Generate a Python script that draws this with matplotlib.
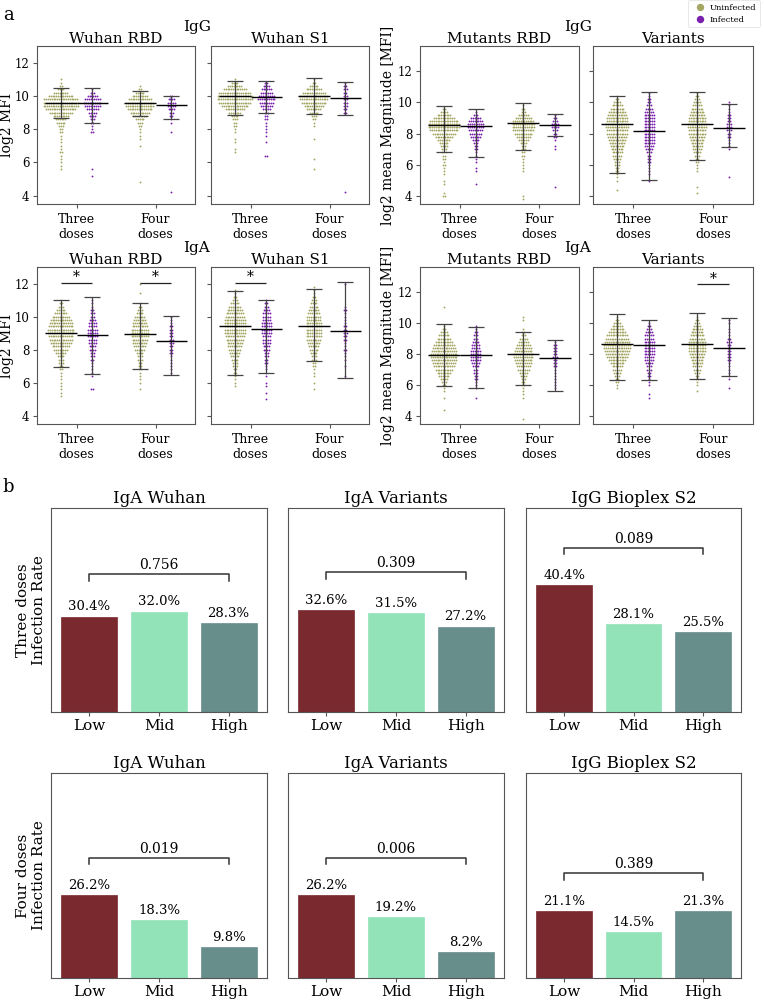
import numpy as np
import matplotlib.pyplot as plt
from matplotlib.lines import Line2D

plt.rcParams['font.family'] = 'DejaVu Serif'

# ---------------- panel a data ----------------
# swarm values are stored as 0.2-wide bins: first bin value + number of points per bin
# group order: three doses uninfected, three doses infected, four doses uninfected, four doses infected
dose_labels = ['Three\ndoses', 'Four\ndoses']
status_labels = ['Uninfected', 'Infected']
bin_step = 0.2

igg_wuhan_rbd_start = [5.6, 5.2, 4.8, 4.2]
igg_wuhan_rbd_counts = [
    [1, 1, 1, 1, 1, 2, 1, 1, 1, 1, 1, 2, 2, 3, 5, 6, 9, 13, 17, 20, 20, 19, 14, 8, 4, 2, 1, 1],
    [1, 0, 1, 0, 0, 0, 0, 0, 0, 0, 0, 0, 0, 2, 1, 1, 2, 3, 4, 5, 7, 9, 10, 9, 6, 3, 1],
    [1] + [0] * 10 + [1, 0, 1, 1, 1, 1, 2, 3, 5, 8, 11, 14, 16, 16, 13, 9, 5, 2, 1],
    [1] + [0] * 17 + [1, 0, 0, 1, 1, 2, 3, 4, 5, 5, 4, 2],
]
igg_wuhan_rbd_mean = [9.58, 9.55, 9.60, 9.45]
igg_wuhan_rbd_low = [8.65, 8.35, 8.78, 8.60]
igg_wuhan_rbd_high = [10.50, 10.50, 10.28, 10.02]

igg_wuhan_s1_start = [6.6, 6.4, 5.6, 4.2]
igg_wuhan_s1_counts = [
    [1, 1, 0, 1, 1, 0, 1, 1, 2, 2, 3, 4, 7, 11, 15, 18, 20, 20, 18, 13, 8, 4, 1],
    [2, 0, 0, 0, 1, 0, 1, 1, 1, 1, 1, 2, 2, 3, 5, 7, 8, 10, 9, 7, 6, 4, 2],
    [1, 0, 0, 1, 0, 0, 0, 0, 0, 1, 0, 0, 0, 1, 1, 2, 3, 5, 8, 11, 14, 16, 16, 13, 9, 5, 2, 1],
    [1] + [0] * 23 + [2, 2, 3, 3, 3, 3, 2, 3, 2, 1],
]
igg_wuhan_s1_mean = [10.00, 9.96, 10.02, 9.90]
igg_wuhan_s1_low = [8.85, 8.95, 8.90, 8.87]
igg_wuhan_s1_high = [10.88, 10.90, 11.05, 10.86]

igg_mutants_start = [4.0, 4.8, 3.8, 4.6]
igg_mutants_counts = [
    [2, 1, 0, 0, 1, 1, 0, 1, 1, 1, 2, 1, 2, 2, 3, 3, 4, 5, 7, 10, 13, 16, 18, 18, 16, 12, 8, 4, 2],
    [1, 0, 0, 0, 1, 1, 0, 1, 1, 1, 1, 2, 2, 3, 4, 6, 7, 8, 9, 9, 8, 6, 3, 1],
    [1, 1] + [0] * 7 + [1, 1, 1, 1, 1, 2, 2, 3, 3, 4, 6, 8, 10, 12, 13, 13, 12, 9, 6, 3, 2, 1],
    [1] + [0] * 11 + [1, 1, 0, 1, 2, 2, 3, 4, 4, 3, 2, 1],
]
igg_mutants_mean = [8.55, 8.49, 8.68, 8.55]
igg_mutants_low = [6.82, 6.53, 6.98, 7.87]
igg_mutants_high = [9.76, 9.57, 9.95, 9.25]

igg_variants_start = [4.4, 5.0, 4.2, 5.2]
igg_variants_counts = [
    [1, 0, 0, 1, 1, 1, 2, 2, 3, 3, 4, 5, 6, 7, 8, 9, 10, 11, 12, 12, 13, 13, 12, 12, 11, 10, 8, 6, 4, 2, 1],
    [1, 0, 1, 1, 1, 1, 2, 2, 2, 3, 4, 5, 6, 6, 6, 6, 6, 6, 6, 6, 6, 6, 5, 4, 3, 2, 2, 1, 1],
    [1, 0, 1, 0, 0, 0, 0, 1, 1, 1, 2, 2, 3, 4, 5, 6, 7, 8, 9, 10, 10, 11, 11, 10, 10, 9, 8, 7, 5, 4, 3, 2, 1],
    [1] + [0] * 8 + [1, 1, 1, 1, 2, 2, 3, 3, 3, 2, 2, 2, 1, 1, 1, 1],
]
igg_variants_mean = [8.61, 8.17, 8.61, 8.36]
igg_variants_low = [5.50, 5.06, 6.33, 7.13]
igg_variants_high = [10.39, 10.65, 10.65, 9.88]

iga_wuhan_rbd_start = [5.2, 5.6, 5.6, 6.6]
iga_wuhan_rbd_counts = [
    [1, 1, 1, 1, 1, 1, 1, 1, 2, 2, 3, 3, 4, 6, 8, 10, 12, 13, 14, 15, 15, 14, 13, 12, 10, 7, 5, 3, 2, 1],
    [2, 0, 0, 0, 1, 1, 1, 1, 1, 2, 3, 3, 4, 4, 5, 5, 6, 6, 6, 5, 5, 4, 3, 3, 2, 1, 1, 1],
    [1, 0, 1, 1, 1, 1, 2, 2, 2, 3, 3, 4, 6, 7, 8, 9, 10, 10, 10, 9, 8, 7, 6, 4, 3, 2, 1, 0, 0, 1, 0, 0, 1],
    [1, 1, 1, 1, 1, 1, 2, 2, 2, 3, 3, 2, 2, 2, 2, 1, 1, 1],
]
iga_wuhan_rbd_mean = [9.02, 8.90, 8.96, 8.52]
iga_wuhan_rbd_low = [6.92, 6.52, 6.80, 6.46]
iga_wuhan_rbd_high = [11.00, 11.16, 10.84, 10.06]

iga_wuhan_s1_start = [5.8, 5.0, 5.6, 6.4]
iga_wuhan_s1_counts = [
    [1, 1, 1, 1, 2, 2, 3, 3, 4, 5, 6, 7, 8, 9, 10, 11, 12, 12, 12, 12, 12, 11, 10, 9, 7, 5, 3, 2, 1, 1],
    [1, 0, 1, 0, 1, 1, 0, 1, 1, 1, 1, 2, 2, 3, 3, 4, 4, 5, 5, 5, 6, 6, 6, 6, 5, 5, 5, 4, 3, 2, 1],
    [1, 0, 1, 0, 1, 1, 1, 2, 2, 3, 3, 4, 5, 6, 7, 8, 9, 9, 9, 9, 9, 8, 8, 7, 6, 5, 4, 3, 2, 1, 1, 1],
    [1, 0, 0, 1, 0, 1, 1, 1, 2, 1, 1, 2, 2, 3, 2, 2, 1, 1, 1, 1, 2, 1, 0, 0, 0, 0, 0, 0, 1],
]
iga_wuhan_s1_mean = [9.46, 9.22, 9.40, 9.10]
iga_wuhan_s1_low = [6.46, 6.56, 7.34, 6.30]
iga_wuhan_s1_high = [11.54, 11.00, 11.66, 12.10]

iga_mutants_start = [4.4, 5.2, 3.8, 5.8]
iga_mutants_counts = [
    [1, 0, 0, 0, 1, 0, 1, 1, 2, 3, 4, 6, 8, 10, 12, 13, 14, 15, 15, 14, 13, 12, 10, 8, 6, 4, 2, 1, 0, 0, 0, 0, 0, 1],
    [1, 0, 0, 1, 1, 1, 2, 2, 3, 3, 4, 5, 6, 6, 6, 6, 5, 5, 4, 3, 3, 2, 1, 1],
    [1, 0, 0, 0, 0, 0, 0, 1, 1, 1, 1, 2, 2, 3, 4, 5, 7, 8, 9, 10, 11, 11, 10, 9, 8, 6, 5, 3, 2, 1, 0, 0, 1, 1],
    [1, 1, 1, 1, 1, 1, 1, 2, 2, 2, 3, 2, 2, 2, 2, 1],
]
iga_mutants_mean = [7.96, 7.96, 8.00, 7.75]
iga_mutants_low = [5.94, 5.79, 6.00, 5.62]
iga_mutants_high = [9.94, 9.77, 9.39, 8.90]

iga_variants_start = [5.8, 5.2, 5.6, 5.8]
iga_variants_counts = [
    [1, 1, 2, 2, 3, 4, 5, 6, 8, 10, 12, 13, 14, 15, 15, 14, 13, 12, 10, 8, 6, 4, 2, 1],
    [1, 1, 0, 0, 1, 1, 1, 2, 2, 3, 3, 4, 5, 5, 6, 6, 6, 6, 6, 5, 5, 4, 3, 2, 1],
    [1, 0, 1, 1, 2, 2, 3, 4, 5, 6, 7, 8, 9, 10, 10, 10, 10, 9, 8, 7, 6, 4, 3, 2, 1],
    [1, 0, 0, 1, 1, 1, 1, 1, 1, 2, 2, 2, 2, 2, 2, 3, 2, 1, 1, 1, 0, 1, 1],
]
iga_variants_mean = [8.65, 8.59, 8.65, 8.38]
iga_variants_low = [6.36, 6.36, 6.42, 6.59]
iga_variants_high = [10.55, 10.21, 10.67, 10.32]

# significance marks: (group index, bar height)
iga_wuhan_rbd_sig = [(0, 12.05), (2, 12.05)]
iga_wuhan_s1_sig = [(0, 12.05)]
iga_variants_sig = [(2, 12.53)]

# ---------------- panel b data ----------------
tiers = ['Low', 'Mid', 'High']
bar_titles = ['IgA Wuhan', 'IgA Variants', 'IgG Bioplex S2']
three_dose_rates = [[0.304, 0.320, 0.283], [0.326, 0.315, 0.272], [0.404, 0.281, 0.255]]
four_dose_rates = [[0.262, 0.183, 0.098], [0.262, 0.192, 0.082], [0.211, 0.145, 0.213]]
three_dose_p = ['0.756', '0.309', '0.089']
four_dose_p = ['0.019', '0.006', '0.389']

olive = '#a4a763'
purple = '#7b1fae'
bar_colors = ['#7a292e', '#93e3b9', '#688e8c']
spine_col = '#555555'

fig = plt.figure(figsize=(7.64, 10), dpi=100)


def rect(x0, y0, x1, y1):
    return [x0 / 764, 1 - y1 / 1000, (x1 - x0) / 764, (y1 - y0) / 1000]


def swarm_panel(ax, starts, counts, means, lows, highs, ylim, sig=()):
    dot_dx = 1.8 / (ax.get_position().width * 764 / 2.0)
    for g in range(4):
        xc = g // 2 + (-0.2 if g % 2 == 0 else 0.2)
        xs, ys = [], []
        for i, n in enumerate(counts[g]):
            if n == 0:
                continue
            y = starts[g] + i * bin_step
            xs.extend(xc + (np.arange(n) - (n - 1) / 2) * dot_dx)
            ys.extend([y] * n)
        ax.scatter(xs, ys, s=1.8, color=[olive, purple][g % 2], linewidths=0, zorder=2)
        ax.vlines(xc, lows[g], highs[g], color='#444444', lw=0.9, zorder=3)
        ax.hlines([lows[g], highs[g]], xc - 0.1, xc + 0.1, color='#444444', lw=0.9, zorder=3)
        ax.hlines(means[g], xc - 0.2, xc + 0.2, color='black', lw=1.0, zorder=4)
    for g, h in sig:
        xc = g // 2
        ax.hlines(h, xc - 0.2, xc + 0.2, color='#222222', lw=0.9)
        ax.text(xc, h + 0.33, '*', ha='center', va='center', fontsize=10)
    ax.set_xlim(-0.5, 1.5)
    ax.set_ylim(*ylim)
    ax.set_xticks([0, 1])
    ax.set_xticklabels(dose_labels, fontsize=9)
    ax.set_yticks([4, 6, 8, 10, 12])
    ax.tick_params(axis='x', labelsize=9, length=3, color=spine_col)
    ax.tick_params(axis='y', labelsize=8.5, length=3, pad=2.5, color=spine_col)
    for s in ax.spines.values():
        s.set_color(spine_col)


top_cols = [(37, 195), (211, 369), (420, 579), (593, 753)]
top_rows = [(46, 204), (267, 424)]
top_panels = [
    [('Wuhan RBD', igg_wuhan_rbd_start, igg_wuhan_rbd_counts, igg_wuhan_rbd_mean, igg_wuhan_rbd_low, igg_wuhan_rbd_high, ()),
     ('Wuhan S1', igg_wuhan_s1_start, igg_wuhan_s1_counts, igg_wuhan_s1_mean, igg_wuhan_s1_low, igg_wuhan_s1_high, ()),
     ('Mutants RBD', igg_mutants_start, igg_mutants_counts, igg_mutants_mean, igg_mutants_low, igg_mutants_high, ()),
     ('Variants', igg_variants_start, igg_variants_counts, igg_variants_mean, igg_variants_low, igg_variants_high, ())],
    [('Wuhan RBD', iga_wuhan_rbd_start, iga_wuhan_rbd_counts, iga_wuhan_rbd_mean, iga_wuhan_rbd_low, iga_wuhan_rbd_high, iga_wuhan_rbd_sig),
     ('Wuhan S1', iga_wuhan_s1_start, iga_wuhan_s1_counts, iga_wuhan_s1_mean, iga_wuhan_s1_low, iga_wuhan_s1_high, iga_wuhan_s1_sig),
     ('Mutants RBD', iga_mutants_start, iga_mutants_counts, iga_mutants_mean, iga_mutants_low, iga_mutants_high, ()),
     ('Variants', iga_variants_start, iga_variants_counts, iga_variants_mean, iga_variants_low, iga_variants_high, iga_variants_sig)],
]
isotypes = ['IgG', 'IgA']

for r, (y0, y1) in enumerate(top_rows):
    for c, (x0, x1) in enumerate(top_cols):
        ax = fig.add_axes(rect(x0, y0, x1, y1))
        title, st, cn, mn, lo, hi, sig = top_panels[r][c]
        ylim = (3.5, 13.0) if c < 2 else (3.5, 13.6)
        swarm_panel(ax, st, cn, mn, lo, hi, ylim, sig)
        ax.set_title(title, fontsize=11, pad=2.5)
        if c in (1, 3):
            ax.set_yticklabels([])
    fig.text(197 / 764, 1 - (y0 - 19) / 1000, isotypes[r], ha='center', va='center', fontsize=11)
    fig.text(578 / 764, 1 - (y0 - 19) / 1000, isotypes[r], ha='center', va='center', fontsize=11)
    yc = 1 - (y0 + y1) / 2 / 1000
    fig.text(7 / 764, yc, 'log2 MFI', rotation=90, ha='center', va='center', fontsize=10)
    fig.text(388 / 764, yc, 'log2 mean Magnitude [MFI]', rotation=90, ha='center', va='center', fontsize=10)

handles = [Line2D([], [], marker='o', ls='', color=olive, markersize=4.3),
           Line2D([], [], marker='o', ls='', color=purple, markersize=4.3)]
leg = fig.legend(handles, status_labels, loc='upper right', bbox_to_anchor=(1.0, 1.004),
                 fontsize=6, frameon=True, handletextpad=0.2, borderpad=0.4, labelspacing=0.5)
leg.get_frame().set_edgecolor('#dddddd')
leg.get_frame().set_linewidth(0.6)

# ---------------- bar panels ----------------
bar_cols = [(51, 267), (288, 504), (526, 741)]
bar_rows = [(508, 712), (773, 978)]
row_rates = [three_dose_rates, four_dose_rates]
row_p = [three_dose_p, four_dose_p]
row_labels = ['Three doses\nInfection Rate', 'Four doses\nInfection Rate']

for r, (y0, y1) in enumerate(bar_rows):
    for c, (x0, x1) in enumerate(bar_cols):
        ax = fig.add_axes(rect(x0, y0, x1, y1))
        vals = row_rates[r][c]
        xs = np.arange(len(tiers))
        ax.bar(xs, vals, width=0.8, color=bar_colors, edgecolor=bar_colors, linewidth=0.5)
        for x, v in zip(xs, vals):
            ax.text(x, v + 0.01, f'{v * 100:.1f}%', ha='center', va='bottom', fontsize=9.5)
        top = max(vals) + 0.12
        ax.plot([0, 0, 2, 2], [top - 0.022, top, top, top - 0.022], color='#333333', lw=1.1)
        ax.text(1, top + 0.005, row_p[r][c], ha='center', va='bottom', fontsize=10)
        ax.set_xlim(-0.55, 2.55)
        ax.set_ylim(0, 0.65)
        ax.set_yticks([])
        ax.set_xticks(xs)
        ax.set_xticklabels(tiers, fontsize=11)
        ax.tick_params(axis='x', length=3, color=spine_col, pad=2)
        ax.set_title(bar_titles[c], fontsize=12, pad=3.5)
        for s in ax.spines.values():
            s.set_color(spine_col)
    fig.text(31 / 764, 1 - (y0 + y1) / 2 / 1000, row_labels[r], rotation=90,
             ha='center', va='center', fontsize=11, multialignment='center')

fig.text(8 / 764, 1 - 15 / 1000, 'a', ha='center', va='center', fontsize=13)
fig.text(8 / 764, 1 - 487 / 1000, 'b', ha='center', va='center', fontsize=13)

fig.savefig('out.png', dpi=100)
